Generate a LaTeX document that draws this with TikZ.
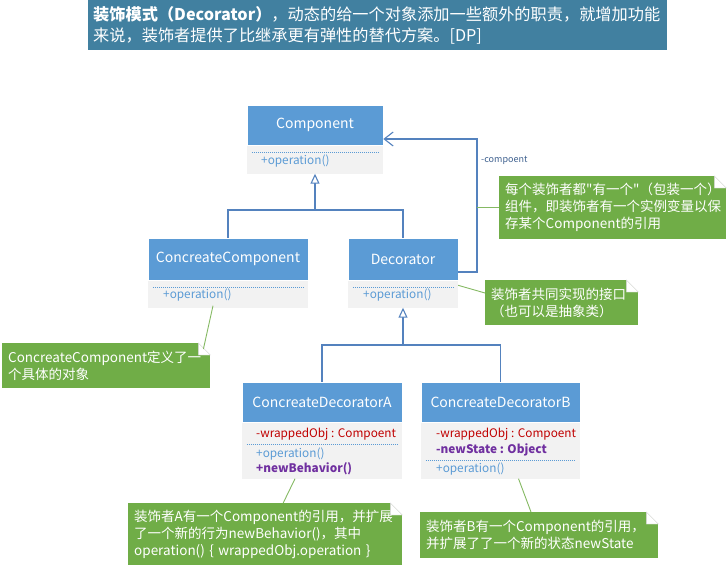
\documentclass[tikz,border=0pt]{standalone}
\usepackage{fontspec}
\setmainfont{Noto Sans CJK SC}[Ligatures=TeXOff]
\usetikzlibrary{arrows.meta}
\definecolor{umlBlue}{RGB}{91,155,213}
\definecolor{umlGray}{RGB}{242,242,242}
\definecolor{lineBlue}{RGB}{84,130,190}
\definecolor{noteGreen}{RGB}{112,173,71}
\definecolor{titleBlue}{RGB}{65,128,160}
\definecolor{attrRed}{RGB}{192,0,0}
\definecolor{methPurple}{RGB}{112,48,160}

\begin{document}
\begin{tikzpicture}[x=1pt,y=-1pt,
    classhead/.style={fill=umlBlue,draw=white,line width=0.6pt,text=white,inner sep=0pt,font=\fontsize{14}{16}\selectfont},
    classbody/.style={fill=umlGray,anchor=north,inner sep=0pt},
    member/.style={anchor=west,inner sep=0pt,font=\fontsize{11.8}{13}\selectfont},
    sep/.style={umlBlue,dash pattern=on 1.2pt off 0.8pt,line width=0.7pt},
    uml/.style={lineBlue,line width=1.1pt},
    inherit/.style={uml,-{Triangle[open,width=9pt,length=10pt,fill=white]}},
    note/.style={fill=noteGreen,text=white,anchor=north west,align=left,inner xsep=6pt,inner ysep=0pt,font=\fontsize{13.5}{17}\selectfont},
    noteline/.style={noteGreen!85!white,line width=0.9pt}]
    \useasboundingbox (0,0) rectangle (727,568);

    % Title
    \node[fill=titleBlue,text=white,anchor=north west,minimum height=50pt,text width=569pt,inner xsep=5pt,align=left,font=\fontsize{16.2}{21}\selectfont] (title) at (88,0) {\textbf{装饰模式（Decorator）}，动态的给一个对象添加一些额外的职责，就增加功能\\来说，装饰者提供了比继承更有弹性的替代方案。[DP]};

    % Component
    \node[classhead,minimum width=136pt,minimum height=40pt] (comp) at (315,125) {Component};
    \node[classbody,minimum width=136pt,minimum height=28pt] (compbody) at (comp.south) {};
    \draw[sep] ([xshift=5pt,yshift=-7pt]compbody.north west) -- ([xshift=-5pt,yshift=-7pt]compbody.north east);
    \node[member,umlBlue] (compop) at (261,161) {+operation()};

    % ConcreateComponent
    \node[classhead,minimum width=160pt,minimum height=42pt] (concomp) at (228,259) {ConcreateComponent};
    \node[classbody,minimum width=160pt,minimum height=27pt] (concompbody) at (concomp.south) {};
    \draw[sep] ([xshift=5pt,yshift=-7pt]concompbody.north west) -- ([xshift=-5pt,yshift=-7pt]concompbody.north east);
    \node[member,umlBlue] (concompop) at (163,295) {+operation()};

    % Decorator
    \node[classhead,minimum width=110pt,minimum height=42pt] (deco) at (403,259) {Decorator};
    \node[classbody,minimum width=110pt,minimum height=27pt] (decobody) at (deco.south) {};
    \draw[sep] ([xshift=5pt,yshift=-7pt]decobody.north west) -- ([xshift=-5pt,yshift=-7pt]decobody.north east);
    \node[member,umlBlue] (decoop) at (363,295) {+operation()};

    % ConcreateDecoratorA
    \node[classhead,minimum width=160pt,minimum height=40pt] (cdecA) at (322,402) {ConcreateDecoratorA};
    \node[classbody,minimum width=160pt,minimum height=56pt] (cdecAbody) at (cdecA.south) {};
    \node[member,attrRed] (cdecAwrap) at (256,434) {-wrappedObj : Compoent};
    \draw[sep] ([xshift=5pt,yshift=-22pt]cdecAbody.north west) -- ([xshift=-5pt,yshift=-22pt]cdecAbody.north east);
    \node[member,umlBlue] (cdecAop) at (256,454) {+operation()};
    \node[member,methPurple,font=\fontsize{11.8}{13}\selectfont\bfseries] (cdecAnew) at (256,469) {+newBehavior()};

    % ConcreateDecoratorB
    \node[classhead,minimum width=159pt,minimum height=40pt] (cdecB) at (500.5,402) {ConcreateDecoratorB};
    \node[classbody,minimum width=159pt,minimum height=56pt] (cdecBbody) at (cdecB.south) {};
    \node[member,attrRed] (cdecBwrap) at (436,434) {-wrappedObj : Compoent};
    \node[member,methPurple,font=\fontsize{11.8}{13}\selectfont\bfseries] (cdecBstate) at (436,450) {-newState : Object};
    \draw[sep] ([xshift=5pt,yshift=-38pt]cdecBbody.north west) -- ([xshift=-5pt,yshift=-38pt]cdecBbody.north east);
    \node[member,umlBlue] (cdecBop) at (436,469) {+operation()};

    % Inheritance
    \coordinate (compjoin) at (315,210);
    \draw[inherit] (compjoin) -- (compbody.south);
    \draw[uml] (concomp.north) |- (compjoin) -| (deco.north);
    \coordinate (decojoin) at (403,345);
    \draw[inherit] (decojoin) -- (decobody.south);
    \draw[uml] (cdecA.north) |- (decojoin) -| (cdecB.north);

    % Association
    \coordinate (rail) at (477,200);
    \draw[uml,-{Straight Barb[length=9pt,width=14pt]}] ([yshift=-13pt]deco.east) -| (rail) |- ([yshift=-14pt]comp.east);
    \node[anchor=west,inner sep=0pt,text=lineBlue!75!black,font=\fontsize{9}{11}\selectfont] (assoclabel) at (481,160) {-compoent};

    % Notes
    \node[note,text width=215pt,minimum height=63pt] (note1) at (499,176) {每个装饰者都"有一个"（包装一个）\\组件，即装饰者有一个实例变量以保\\存某个Component的引用};
    \node[note,text width=141pt,minimum height=45pt] (note2) at (485,280) {装饰者共同实现的接口\\（也可以是抽象类）};
    \node[note,text width=196pt,minimum height=45pt] (note3) at (2,343) {ConcreateComponent定义了一\\个具体的对象};
    \node[note,text width=262pt,minimum height=62pt] (note4) at (128,503) {装饰者A有一个Component的引用，并扩展\\了一个新的行为newBehavior()，其中\\operation() \{ wrappedObj.operation \}};
    \node[note,text width=226pt,minimum height=46pt] (note5) at (420,512) {装饰者B有一个Component的引用，\\并扩展了了一个新的状态newState};
    \foreach \n in {note1,note2,note3,note4,note5} {
        \fill[white] ([xshift=-12pt]\n.north east) -- (\n.north east) -- ([yshift=-12pt]\n.north east) -- cycle;
        \draw[gray!35,fill=white] ([xshift=-12pt]\n.north east) -- ([xshift=-12pt,yshift=-12pt]\n.north east) -- ([yshift=-12pt]\n.north east) -- cycle;
    }

    % Note links
    \draw[noteline] (note1.west) -- (note1.west -| rail);
    \draw[noteline] ([yshift=-5pt]decobody.north east) -- ([yshift=-13pt]note2.north west);
    \draw[noteline] ([xshift=-15pt,yshift=2pt]concompbody.south) -- ([xshift=-7pt,yshift=-6pt]note3.north east);
    \draw[noteline] ([xshift=-27pt]cdecAbody.south) -- ([xshift=18pt]note4.north);
    \draw[noteline] ([xshift=18pt]cdecBbody.south) -- ([xshift=111pt]note5.north west);
\end{tikzpicture}
\end{document}
